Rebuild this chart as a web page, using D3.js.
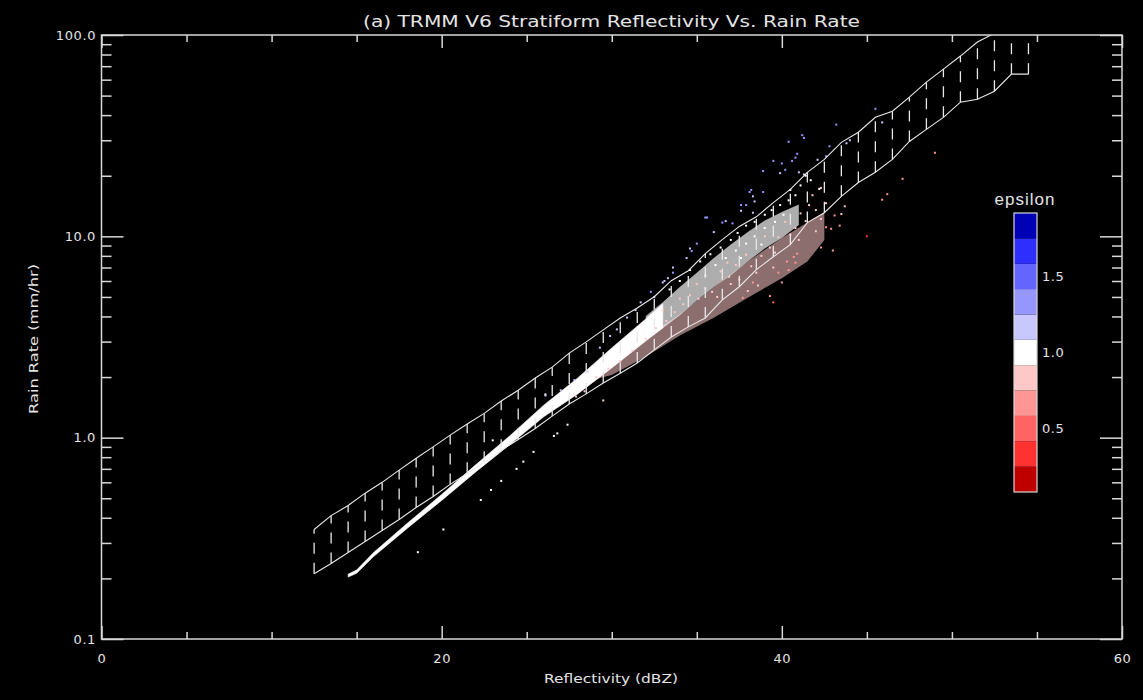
<!DOCTYPE html>
<html lang="en">
<head>
<meta charset="utf-8">
<title>TRMM V6 Stratiform Reflectivity Vs. Rain Rate</title>
<script src="https://cdn.jsdelivr.net/npm/d3@7"></script>
<style>
  body { margin: 0; background: #000; }
  text { font-family: "DejaVu Sans", sans-serif; fill: #e4e4e4; }
</style>
</head>
<body>
<script>
// ---- data ----
// hatched band: bin centres (dBZ) with upper / lower rain rate (mm/hr)
var bandDbz = [12.5, 13.5, 14.5, 15.5, 16.5, 17.5, 18.5, 19.5, 20.5, 21.5, 22.5,
               23.5, 24.5, 25.5, 26.5, 27.5, 28.5, 29.5, 30.5, 31.5, 32.5, 33.5,
               34.5, 35.5, 36.5, 37.5, 38.5, 39.5, 40.5, 41.5, 42.5, 43.5, 44.5,
               45.5, 46.5, 47.5, 48.5, 49.5, 50.5, 51.5, 52.5, 53.5, 54.5];
var bandUpper = [0.35, 0.41, 0.46, 0.53, 0.60, 0.69, 0.79, 0.90, 1.03, 1.17, 1.32,
                 1.52, 1.72, 1.98, 2.24, 2.63, 2.99, 3.43, 3.93, 4.41, 5.01, 6.02,
                 6.75, 8.20, 9.63, 11.2, 12.5, 14.7, 17.1, 20.8, 24.1, 29.3, 32.9,
                 39.0, 41.8, 49.1, 58.3, 67.7, 78.6, 92.3, 102, 120, 140];
var bandLower = [0.211, 0.237, 0.269, 0.305, 0.346, 0.392, 0.450, 0.510, 0.586, 0.665, 0.754,
                 0.865, 0.98, 1.11, 1.28, 1.47, 1.65, 1.87, 2.09, 2.35, 2.73, 3.16,
                 3.55, 3.93, 4.84, 5.62, 6.83, 7.92, 9.09, 11.7, 13.1, 15.8, 18.5,
                 20.8, 24.1, 29.6, 34.0, 39.0, 46.4, 48.0, 52.6, 63.9, 63.9];

// dense white core of the scatter (envelope)
var coreDbz = [14.5, 15, 16, 18, 20, 22, 24, 26, 28, 30, 32, 33];
var coreLo  = [0.203, 0.212, 0.257, 0.356, 0.488, 0.676, 0.922, 1.27, 1.65, 2.22, 3.02, 3.51];
var coreHi  = [0.210, 0.220, 0.269, 0.377, 0.522, 0.733, 1.02, 1.45, 1.98, 2.79, 3.89, 4.62];

// speckled white cloud and pink cloud (envelopes)
var cloudDbz = [32, 33, 34, 35, 36, 37, 38, 39, 40, 41];
var cloudLo  = [3.05, 3.5, 4.06, 4.8, 5.6, 6.4, 7.5, 8.7, 9.8, 11.4];
var cloudHi  = [4.02, 4.7, 5.6, 6.6, 7.8, 9.1, 10.5, 12.0, 13.2, 14.4];
var pinkDbz = [29, 30, 32, 34, 36, 38, 40, 41.5, 42.5];
var pinkLo  = [1.95, 2.05, 2.52, 3.22, 3.94, 4.95, 6.2, 7.5, 9.6];
var pinkHi  = [2.2, 2.37, 3.15, 4.1, 5.6, 7.5, 9.8, 11.7, 13.2];

// individual points: [dBZ, rain rate, epsilon]
var points = [
  [18.6,0.27,1],[20.1,0.35,1],[22.3,0.49,1],[22.9,0.55,1],[23.5,0.61,1],[24.4,0.70,1],
  [24.8,0.76,1],[25.4,0.85,1],[26.6,1.02,1],[26.8,1.05,1],[27.4,1.16,1],[23.0,0.97,1],[26.1,1.64,1],
  [27.0,1.72,1.15],[26.1,1.62,1.2],[27.8,1.93,1.1],[28.6,2.13,1.15],[29.9,3.2,1.2],[30.3,3.45,1.2],
  [30.9,3.95,1.2],[31.7,4.7,1.2],[32.3,5.3,1.25],[33.0,5.9,1.2],[33.6,6.6,1.25],[34.4,7.8,1.2],
  [34.7,8.45,1.3],[36.0,10.5,1.2],[35.5,12.4,1.35],[36.5,11.7,1.3],[37.1,11.6,1.25],[37.6,14.3,1.3],
  [38.2,17.0,1.35],[38.9,16.6,1.3],[38.3,13.1,1.2],[33.3,6.2,1.2],[32.5,5.0,1.15],[31.4,4.3,1.2],
  [29.3,2.8,1.15],[35.0,9.2,1.3],[40.4,29.5,1.3],[41.2,31.8,1.3],[41.3,30.8,1.35],[38.9,21.1,1.3],
  [39.5,23.7,1.25],[39.9,20.6,1.2],[40.2,21.4,1.25],[40.6,23.7,1.3],[40.9,25.7,1.3],[40.8,24.6,1.25],
  [38.1,16.6,1.25],[38.3,15.8,1.2],[38.4,14.9,1.2],[37.6,13.4,1.2],[37.9,14.3,1.25],[36.7,11.9,1.2],
  [35.6,12.4,1.25],[34.6,8.7,1.2],[33.6,7.0,1.2],[33.1,6.0,1.2],[43.2,35.9,1.3],[45.9,36.8,1.1],
  [45.5,43,1.35],[42.8,28,1.3],[42.1,24,1.2],[42.6,25,1.25],[41.0,20.8,1.2],[41.3,20.3,1.2],
  [40.0,23,1.3],[44.0,30,1.1],[43.8,29,1.15],
  [39.5,4.7,0.55],[39.3,5.05,0.65],[40.0,5.9,0.6],[40.4,6.8,0.65],[40.8,7.4,0.6],[39.5,7.0,0.75],
  [38.6,5.7,0.75],[38.3,5.9,0.7],[37.7,4.95,0.7],[38.0,5.35,0.75],[40.9,8.2,0.65],[40.3,7.5,0.7],
  [45.0,10.0,0.3],[49.0,26,0.6],[47.1,19.3,0.6],[46.2,16.2,0.7],[45.9,15.2,0.65],[43.0,8.5,0.6],
  [42.3,8.8,0.65],[43.7,14.1,0.75],[43.4,11.3,0.7],[42.9,10.9,0.7],[42.3,12.2,0.75],[43.1,12.7,0.7],
  [43.5,12.9,0.75],[42.6,11.1,0.7],[39.8,6.6,0.65],[40.7,7.9,0.7],
  [41.8,16.0,0.85],[42.3,17.4,0.85],[42.6,14.6,0.8],[42.0,13.5,0.8],[41.4,11.9,0.8],[41.6,14.3,0.85],
  [41.1,13.0,0.85],[40.8,11.0,0.8],[40.5,10.2,0.8],[40.2,11.8,0.85],[39.8,9.9,0.85],[39.3,8.8,0.8],
  [39.0,10.0,0.85],[38.8,8.0,0.8],[38.2,7.1,0.8],[37.9,8.1,0.85],[37.3,7.2,0.85],[36.9,6.3,0.8],
  [36.4,6.7,0.85],[35.9,5.3,0.8],[35.5,5.5,0.85],[35.1,4.9,0.8],[34.6,5.1,0.85],[34.2,4.6,0.8],
  [33.7,4.2,0.85],[33.2,3.8,0.8],[32.6,3.5,0.85],[32.0,3.1,0.85],[31.2,2.7,0.85],[30.5,2.4,0.85],
  [29.8,2.2,0.85],[29.1,2.0,0.85],[28.4,1.7,0.85],[27.9,1.6,0.85],[29.5,1.53,0.85],[37.0,5.8,0.8],
  [37.5,6.1,0.75],[36.2,5.0,0.8],[39.6,8.3,0.8],[41.0,9.6,0.75],[42.0,10.6,0.8],[38.5,6.6,0.8],
  [36.8,7.4,0.85],[35.0,5.8,0.85],[34.0,4.9,0.85],[33.0,4.3,0.85],
  [35.2,7.5,1],[35.8,8.15,1],[36.4,8.8,1],[37.0,9.6,1],[37.4,10.4,1],[37.9,11.3,1],[38.4,11.8,1],
  [39.0,12.8,1],[39.4,13.5,1],[39.9,14.3,1],[40.4,15.1,1],[40.8,16.0,1],[36.1,7.2,1],[36.7,7.8,1],
  [37.3,8.5,1],[37.9,9.2,1],[38.4,10.0,1],[39.0,11.0,1],[39.6,11.8,1],[40.1,12.8,1],[35.5,6.4,1],
  [37.6,7.8,1],[38.8,9.1,1],[34.6,6.8,1],[34.0,6.0,1],[33.4,5.45,1],[41.1,17.9,1],[41.7,19.0,1],
  [42.2,17.2,1],[40.5,17.0,1],[41.4,20.0,1]
];

// axis ticks
var xMajor = [0, 20, 40, 60];
var xMinor = [5, 10, 15, 25, 30, 35, 45, 50, 55];
var yMajor = [0.1, 1, 10, 100];
var yMinor = [0.2, 0.3, 0.4, 0.5, 0.6, 0.7, 0.8, 0.9, 2, 3, 4, 5, 6, 7, 8, 9,
              20, 30, 40, 50, 60, 70, 80, 90];

// colour bar
var epsColors = ["#be0000", "#ff3232", "#ff6464", "#ff9696", "#ffc8c8", "#ffffff",
                 "#c8c8ff", "#9696ff", "#6464ff", "#2e2eff", "#0000b4"];
var epsTicks = [0.5, 1.0, 1.5];

// ---- drawing ----
var w = 1143, h = 700;
var pLeft = 101.5, pRight = 1122, pTop = 35, pBottom = 639;

var svg = d3.select("body").append("svg")
  .attr("width", w).attr("height", h)
  .style("background", "#000");

var x = d3.scaleLinear().domain([0, 60]).range([pLeft, pRight]);
var y = d3.scaleLog().domain([0.1, 100]).range([pBottom, pTop]);

var epsLo = 1 - 5.5 / 6, epsHi = 1 + 5.5 / 6;
var color = d3.scaleQuantize().domain([epsLo, epsHi]).range(epsColors);

svg.append("clipPath").attr("id", "plot")
  .append("rect").attr("x", pLeft).attr("y", pTop)
  .attr("width", pRight - pLeft).attr("height", pBottom - pTop);

var plot = svg.append("g").attr("clip-path", "url(#plot)");

function envelope(dbz, lo, hi) {
  return d3.area()
    .x(function(d, i) { return x(dbz[i]); })
    .y0(function(d, i) { return y(lo[i]); })
    .y1(function(d, i) { return y(hi[i]); })(dbz);
}

plot.append("path").attr("d", envelope(pinkDbz, pinkLo, pinkHi))
  .attr("fill", "#ffc8c8").attr("opacity", 0.55);
plot.append("path").attr("d", envelope(cloudDbz, cloudLo, cloudHi))
  .attr("fill", "#ffffff").attr("opacity", 0.68);
plot.append("path").attr("d", envelope(coreDbz, coreLo, coreHi))
  .attr("fill", "#ffffff").attr("stroke", "#ffffff").attr("stroke-width", 0.6);

plot.selectAll("rect.pt")
  .data(points)
  .enter()
  .append("rect")
  .attr("class", "pt")
  .attr("x", function(d) { return x(d[0]) - 1; })
  .attr("y", function(d) { return y(d[1]) - 1; })
  .attr("width", 2)
  .attr("height", 2)
  .attr("fill", function(d) { return color(d[2]); });

// band outlines and dashed hatching
var bandLine = function(vals) {
  return d3.line()
    .x(function(d, i) { return x(bandDbz[i]); })
    .y(function(d) { return y(d); })(vals);
};
plot.append("path").attr("d", bandLine(bandUpper))
  .attr("fill", "none").attr("stroke", "#e8e8e8").attr("stroke-width", 1.1);
plot.append("path").attr("d", bandLine(bandLower))
  .attr("fill", "none").attr("stroke", "#e8e8e8").attr("stroke-width", 1.1);

plot.selectAll("line.hatch")
  .data(bandDbz)
  .enter()
  .append("line")
  .attr("class", "hatch")
  .attr("x1", function(d) { return x(d); })
  .attr("x2", function(d) { return x(d); })
  .attr("y1", function(d, i) { return y(bandLower[i]); })
  .attr("y2", function(d, i) { return y(bandUpper[i]); })
  .attr("stroke", "#e8e8e8")
  .attr("stroke-width", 1.3)
  .attr("stroke-dasharray", "11,9");

// axes
function styleAxis(g) {
  g.select(".domain").remove();
  g.selectAll("line").attr("stroke", "#d8d8d8").attr("stroke-width", 1.5);
  g.selectAll("text").style("font-size", "13px").style("letter-spacing", "0.6px");
}

svg.append("g").attr("transform", "translate(0," + pBottom + ")")
  .call(d3.axisBottom(x).tickValues(xMajor).tickSize(-13).tickPadding(15).tickFormat(d3.format("d")))
  .call(styleAxis);
svg.append("g").attr("transform", "translate(0," + pBottom + ")")
  .call(d3.axisBottom(x).tickValues(xMinor).tickSize(-7).tickFormat(""))
  .call(styleAxis);
svg.append("g").attr("transform", "translate(0," + pTop + ")")
  .call(d3.axisTop(x).tickValues(xMajor).tickSize(-13).tickFormat(""))
  .call(styleAxis);
svg.append("g").attr("transform", "translate(0," + pTop + ")")
  .call(d3.axisTop(x).tickValues(xMinor).tickSize(-7).tickFormat(""))
  .call(styleAxis);

svg.append("g").attr("transform", "translate(" + pLeft + ",0)")
  .call(d3.axisLeft(y).tickValues(yMajor).tickSize(-22).tickPadding(5.5).tickFormat(d3.format(".1f")))
  .call(styleAxis);
svg.append("g").attr("transform", "translate(" + pLeft + ",0)")
  .call(d3.axisLeft(y).tickValues(yMinor).tickSize(-10).tickFormat(""))
  .call(styleAxis);
svg.append("g").attr("transform", "translate(" + pRight + ",0)")
  .call(d3.axisRight(y).tickValues(yMajor).tickSize(-22).tickFormat(""))
  .call(styleAxis);
svg.append("g").attr("transform", "translate(" + pRight + ",0)")
  .call(d3.axisRight(y).tickValues(yMinor).tickSize(-10).tickFormat(""))
  .call(styleAxis);

svg.append("rect")
  .attr("x", pLeft).attr("y", pTop)
  .attr("width", pRight - pLeft).attr("height", pBottom - pTop)
  .attr("fill", "none").attr("stroke", "#d8d8d8").attr("stroke-width", 1.5);

// titles
svg.append("text")
  .attr("x", 363).attr("y", 27)
  .attr("textLength", 497).attr("lengthAdjust", "spacingAndGlyphs")
  .style("font-size", "16px")
  .text("(a) TRMM V6 Stratiform Reflectivity Vs. Rain Rate");

svg.append("text")
  .attr("x", 611).attr("y", 683)
  .attr("text-anchor", "middle")
  .attr("textLength", 134).attr("lengthAdjust", "spacingAndGlyphs")
  .style("font-size", "13px")
  .text("Reflectivity (dBZ)");

svg.append("text")
  .attr("transform", "translate(38,339) rotate(-90)")
  .attr("text-anchor", "middle")
  .attr("textLength", 150).attr("lengthAdjust", "spacingAndGlyphs")
  .style("font-size", "13px")
  .text("Rain Rate (mm/hr)");

// colour bar
var cbX = 1014, cbW = 23;
var cb = d3.scaleLinear().domain([epsLo, epsHi]).range([492, 213]);
var binW = 1 / 6;

svg.selectAll("rect.cb")
  .data(epsColors)
  .enter()
  .append("rect")
  .attr("class", "cb")
  .attr("x", cbX)
  .attr("y", function(d, i) { return cb(epsLo + (i + 1) * binW); })
  .attr("width", cbW)
  .attr("height", function(d, i) { return cb(epsLo + i * binW) - cb(epsLo + (i + 1) * binW); })
  .attr("fill", function(d) { return d; });

svg.append("rect")
  .attr("x", cbX).attr("y", cb(epsHi))
  .attr("width", cbW).attr("height", cb(epsLo) - cb(epsHi))
  .attr("fill", "none").attr("stroke", "#d8d8d8").attr("stroke-width", 1.2);

svg.selectAll("text.cbl")
  .data(epsTicks)
  .enter()
  .append("text")
  .attr("class", "cbl")
  .attr("x", cbX + cbW + 5)
  .attr("y", function(d) { return cb(d); })
  .attr("dy", "0.36em")
  .style("font-size", "13px")
  .style("letter-spacing", "0.6px")
  .text(function(d) { return d3.format(".1f")(d); });

svg.append("text")
  .attr("x", 1025).attr("y", 205)
  .attr("text-anchor", "middle")
  .style("font-family", "'Liberation Sans', Arial, sans-serif")
  .style("font-size", "17px")
  .style("letter-spacing", "1px")
  .text("epsilon");
</script>
</body>
</html>
